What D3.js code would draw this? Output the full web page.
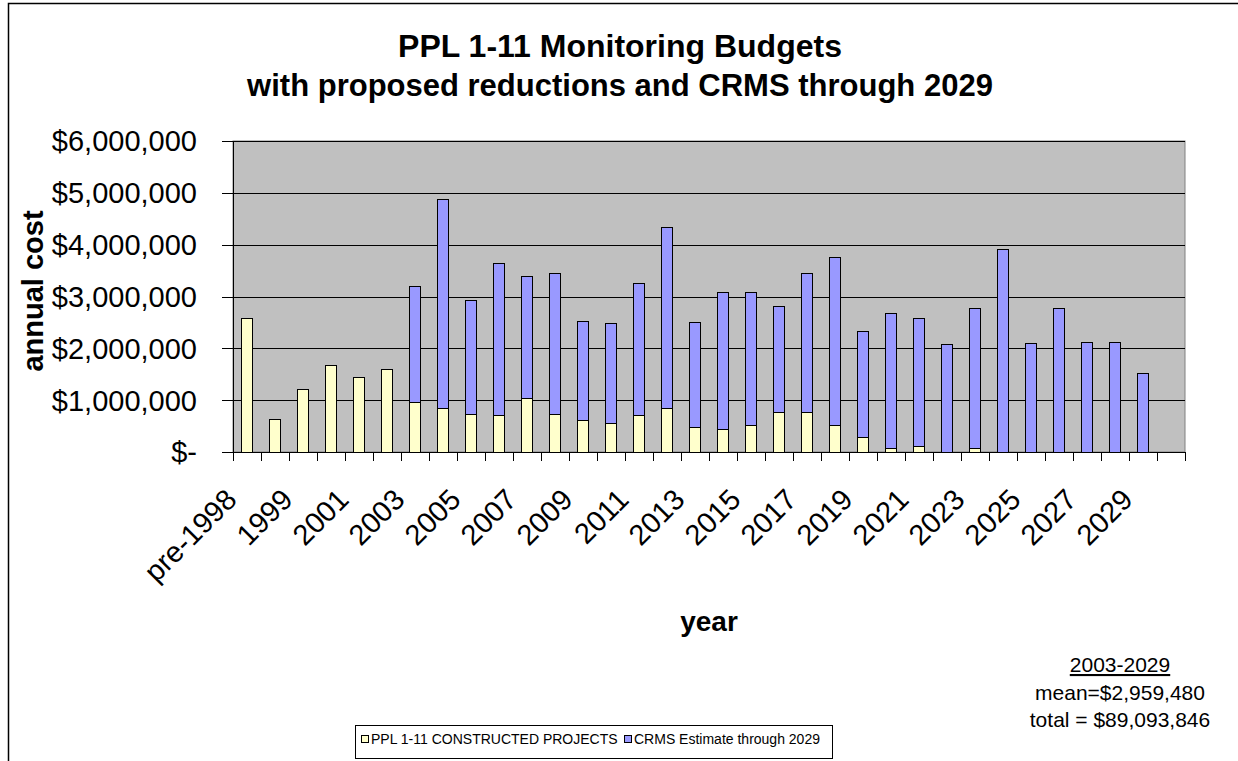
<!DOCTYPE html>
<html lang="en">
<head>
<meta charset="UTF-8">
<title>PPL 1-11 Monitoring Budgets</title>
<script src="https://d3js.org/d3.v7.min.js"></script>
<style>
  body { margin: 0; background: #fff; }
  svg { font-family: "Liberation Sans", Arial, sans-serif; }
</style>
</head>
<body>
<svg width="1238" height="761"></svg>
<script>
// categories (the last slot is empty in the original chart)
const years = ["pre-1998", "1998", "1999", "2000", "2001", "2002", "2003", "2004", "2005",
  "2006", "2007", "2008", "2009", "2010", "2011", "2012", "2013", "2014", "2015", "2016",
  "2017", "2018", "2019", "2020", "2021", "2022", "2023", "2024", "2025", "2026", "2027",
  "2028", "2029", ""];

// PPL 1-11 constructed projects
const constructed = [2590000, 640000, 1225000, 1680000, 1440000, 1600000, 955000, 850000, 740000,
  716000, 1040000, 740000, 610000, 555000, 716000, 850000, 480000, 450000, 530000, 770000,
  770000, 530000, 290000, 80000, 110000, 0, 80000, 0, 0, 0, 0,
  0, 0, 0];

// CRMS estimate (stacked on top)
const crms = [0, 0, 0, 0, 0, 0, 2245000, 4030000, 2190000,
  2934000, 2350000, 2720000, 1920000, 1925000, 2544000, 3500000, 2020000, 2640000, 2560000, 2040000,
  2690000, 3230000, 2050000, 2610000, 2480000, 2080000, 2690000, 3920000, 2100000, 2770000, 2130000,
  2130000, 1520000, 0];

const yTicks = [0, 1000000, 2000000, 3000000, 4000000, 5000000, 6000000];
const titleLines = ["PPL 1-11 Monitoring Budgets", "with proposed reductions and CRMS through 2029"];
const seriesNames = ["PPL 1-11 CONSTRUCTED PROJECTS", "CRMS Estimate through 2029"];
const colors = ["#FFFFCC", "#9999FF"];
const noteLines = ["2003-2029", "mean=$2,959,480", "total = $89,093,846"];

const svg = d3.select("svg");
const plotLeft = 233, plotRight = 1185, plotTop = 141, plotBottom = 452;

// outer border of the chart
svg.append("rect")
  .attr("x", 8.5).attr("y", 3.5)
  .attr("width", 1300).attr("height", 900)
  .attr("fill", "none").attr("stroke", "#000").attr("stroke-width", 1.5);

// title
svg.append("g").selectAll("text")
  .data(titleLines)
  .enter().append("text")
  .attr("x", 620)
  .attr("y", (d, i) => 57 + i * 39)
  .attr("text-anchor", "middle")
  .attr("font-size", (d, i) => i === 0 ? 32 : 31)
  .attr("font-weight", "bold")
  .text(d => d);

const x = d3.scaleBand()
  .domain(years)
  .range([plotLeft, plotRight])
  .paddingInner(0.6)
  .paddingOuter(0.3);

const slot = d3.scaleLinear().domain([0, years.length]).range([plotLeft, plotRight]);

const y = d3.scaleLinear().domain([0, 6000000]).range([plotBottom, plotTop]);

// plot area
svg.append("rect")
  .attr("x", plotLeft).attr("y", plotTop)
  .attr("width", plotRight - plotLeft).attr("height", plotBottom - plotTop)
  .attr("fill", "#C0C0C0")
  .attr("stroke", "#808080");

// gridlines
svg.append("g").selectAll("line")
  .data(yTicks.filter(d => d > 0))
  .enter().append("line")
  .attr("x1", plotLeft).attr("x2", plotRight)
  .attr("y1", d => Math.round(y(d)) + 0.5)
  .attr("y2", d => Math.round(y(d)) + 0.5)
  .attr("stroke", "#000");

// stacked bars
const stack = d3.stack().keys([0, 1]).value((d, k) => d[k]);
const rows = years.map((yr, i) => [constructed[i], crms[i]]);
const layers = stack(rows);

svg.append("g").selectAll("g")
  .data(layers)
  .enter().append("g")
  .attr("fill", (d, i) => colors[i])
  .selectAll("rect")
  .data(d => d.map((p, i) => ({ p: p, i: i })).filter(o => o.p[1] > o.p[0]))
  .enter().append("rect")
  .attr("x", o => Math.round(x(years[o.i])) + 0.5)
  .attr("width", Math.round(x.bandwidth()))
  .attr("y", o => Math.round(y(o.p[1])) + 0.5)
  .attr("height", o => Math.round(y(o.p[0])) - Math.round(y(o.p[1])))
  .attr("stroke", "#000")
  .attr("stroke-width", 1);

// y axis
const yAxis = svg.append("g");
yAxis.append("line")
  .attr("x1", plotLeft + 0.5).attr("x2", plotLeft + 0.5)
  .attr("y1", plotTop).attr("y2", plotBottom)
  .attr("stroke", "#000");
yAxis.selectAll("line.tick")
  .data(yTicks)
  .enter().append("line")
  .attr("class", "tick")
  .attr("x1", plotLeft - 11).attr("x2", plotLeft)
  .attr("y1", d => Math.round(y(d)) + 0.5)
  .attr("y2", d => Math.round(y(d)) + 0.5)
  .attr("stroke", "#000");
yAxis.selectAll("text")
  .data(yTicks)
  .enter().append("text")
  .attr("x", 197)
  .attr("y", d => y(d))
  .attr("dy", "0.36em")
  .attr("text-anchor", "end")
  .attr("font-size", 29)
  .text(d => d === 0 ? "$-" : "$" + d3.format(",")(d));

svg.append("text")
  .attr("transform", "translate(43,291) rotate(-90)")
  .attr("text-anchor", "middle")
  .attr("font-size", 29)
  .attr("font-weight", "bold")
  .text("annual cost");

// x axis
const xAxis = svg.append("g");
xAxis.append("line")
  .attr("x1", plotLeft).attr("x2", plotRight)
  .attr("y1", plotBottom + 0.5).attr("y2", plotBottom + 0.5)
  .attr("stroke", "#000");
xAxis.selectAll("line.tick")
  .data(d3.range(years.length + 1))
  .enter().append("line")
  .attr("class", "tick")
  .attr("x1", d => Math.round(slot(d)) + 0.5)
  .attr("x2", d => Math.round(slot(d)) + 0.5)
  .attr("y1", plotBottom).attr("y2", plotBottom + 9)
  .attr("stroke", "#000");
xAxis.selectAll("text")
  .data(years.filter((d, i) => i % 2 === 0 && d !== ""))
  .enter().append("text")
  .attr("transform", d => `translate(${x(d) + x.bandwidth() / 2 - 16},494) rotate(-45)`)
  .attr("dy", "0.36em")
  .attr("text-anchor", "end")
  .attr("font-size", 29)
  .text(d => d);

svg.append("text")
  .attr("x", 709).attr("y", 631)
  .attr("text-anchor", "middle")
  .attr("font-size", 28)
  .attr("font-weight", "bold")
  .text("year");

// note at bottom right
const note = svg.append("g").attr("font-size", 21).attr("text-anchor", "middle");
note.selectAll("text")
  .data(noteLines)
  .enter().append("text")
  .attr("x", 1120)
  .attr("y", (d, i) => 672 + i * 27.5)
  .attr("text-decoration", (d, i) => i === 0 ? "underline" : null)
  .text(d => d);

// legend
const legend = svg.append("g");
legend.append("rect")
  .attr("x", 355.5).attr("y", 725.5)
  .attr("width", 477).attr("height", 33)
  .attr("fill", "#fff").attr("stroke", "#000");
const legendX = [361, 624];
seriesNames.forEach((name, i) => {
  legend.append("rect")
    .attr("x", legendX[i] + 0.5).attr("y", 735.5)
    .attr("width", 7).attr("height", 7)
    .attr("fill", colors[i]).attr("stroke", "#000");
  legend.append("text")
    .attr("x", legendX[i] + 10).attr("y", 739)
    .attr("dy", "0.36em")
    .attr("font-size", 14)
    .text(name);
});
</script>
</body>
</html>
